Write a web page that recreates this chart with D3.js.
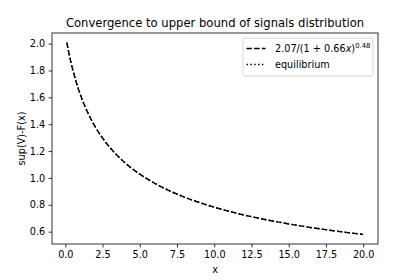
<!DOCTYPE html>
<html lang="en">
<head>
  <meta charset="UTF-8">
  <title>Convergence to upper bound</title>
  <script src="https://cdnjs.cloudflare.com/ajax/libs/d3/7.8.5/d3.min.js"></script>
  <style>
    body { margin: 0; background: #fff; }
    text { font-family: "DejaVu Sans", sans-serif; fill: #000; }
  </style>
</head>
<body>
  <svg width="420" height="280"></svg>
  <script>
    // values
    const xs = [0.1, 0.25, 0.5, 0.75, 1, 1.5, 2, 2.5, 3, 4, 5, 6, 7, 8, 9, 10, 12, 14, 16, 18, 20];
    const fitted = [2.008, 1.924, 1.805, 1.707, 1.623, 1.488, 1.382, 1.297, 1.226, 1.113, 1.028,
                    0.960, 0.904, 0.857, 0.817, 0.782, 0.724, 0.678, 0.639, 0.607, 0.579];
    const equilibrium = [2.008, 1.924, 1.805, 1.707, 1.623, 1.488, 1.382, 1.297, 1.226, 1.113, 1.028,
                    0.960, 0.904, 0.857, 0.817, 0.782, 0.724, 0.678, 0.639, 0.607, 0.579];
    const xTicks = [0, 2.5, 5, 7.5, 10, 12.5, 15, 17.5, 20];
    const yTicks = [0.6, 0.8, 1.0, 1.2, 1.4, 1.6, 1.8, 2.0];

    const svg = d3.select("svg");
    const margin = { left: 52, right: 42, top: 33, bottom: 36 };
    const W = 420, H = 280;
    const fs = 9.7;

    const x = d3.scaleLinear().domain([-0.895, 20.995]).range([margin.left, W - margin.right]);
    const y = d3.scaleLinear().domain([0.508, 2.079]).range([H - margin.bottom, margin.top]);

    // axes
    const xAxis = svg.append("g")
      .attr("transform", `translate(0,${H - margin.bottom})`)
      .call(d3.axisBottom(x).tickValues(xTicks).tickFormat(d3.format(".1f")).tickSize(3.4).tickPadding(3.4));
    const yAxis = svg.append("g")
      .attr("transform", `translate(${margin.left},0)`)
      .call(d3.axisLeft(y).tickValues(yTicks).tickFormat(d3.format(".1f")).tickSize(3.4).tickPadding(3.4));
    [xAxis, yAxis].forEach(g => {
      g.select(".domain").remove();
      g.selectAll("text").style("font-size", fs + "px").style("font-family", "DejaVu Sans");
      g.selectAll("line").attr("stroke", "#000").attr("stroke-width", 0.8);
    });

    // frame
    svg.append("rect")
      .attr("x", margin.left).attr("y", margin.top)
      .attr("width", W - margin.left - margin.right)
      .attr("height", H - margin.top - margin.bottom)
      .attr("fill", "none").attr("stroke", "#000").attr("stroke-width", 0.8);

    const pts1 = xs.map((d, i) => [d, fitted[i]]);
    const pts2 = xs.map((d, i) => [d, equilibrium[i]]);
    const line = d3.line().x(d => x(d[0])).y(d => y(d[1])).curve(d3.curveMonotoneX);

    svg.append("path").datum(pts1).attr("d", line)
      .attr("fill", "none").attr("stroke", "#000").attr("stroke-width", 1.45)
      .attr("stroke-dasharray", "5.4,2.3");
    svg.append("path").datum(pts2).attr("d", line)
      .attr("fill", "none").attr("stroke", "#000").attr("stroke-width", 1.45)
      .attr("stroke-dasharray", "1.45,2.4");

    // title and labels
    svg.append("text").attr("x", (margin.left + W - margin.right) / 2).attr("y", 27)
      .attr("text-anchor", "middle").style("font-size", "11.6px")
      .text("Convergence to upper bound of signals distribution");
    svg.append("text").attr("x", (margin.left + W - margin.right) / 2).attr("y", 273)
      .attr("text-anchor", "middle").style("font-size", fs + "px").text("x");
    svg.append("text")
      .attr("transform", `translate(25,${(margin.top + H - margin.bottom) / 2}) rotate(-90)`)
      .attr("text-anchor", "middle").style("font-size", fs + "px").text("sup(V)-F(x)");

    // legend
    const lg = svg.append("g").attr("transform", "translate(243,38)");
    lg.append("rect").attr("width", 130).attr("height", 38).attr("rx", 2)
      .attr("fill", "#fff").attr("fill-opacity", 0.8)
      .attr("stroke", "#ccc").attr("stroke-width", 0.8);
    lg.append("line").attr("x1", 3.5).attr("x2", 22.5).attr("y1", 10.5).attr("y2", 10.5)
      .attr("stroke", "#000").attr("stroke-width", 1.45).attr("stroke-dasharray", "5.4,2.3");
    lg.append("line").attr("x1", 3.5).attr("x2", 22.5).attr("y1", 26.5).attr("y2", 26.5)
      .attr("stroke", "#000").attr("stroke-width", 1.45).attr("stroke-dasharray", "1.45,2.4");
    const t1 = lg.append("text").attr("x", 32).attr("y", 14).style("font-size", fs + "px");
    t1.append("tspan").text("2.07/(1 + 0.66");
    t1.append("tspan").style("font-style", "italic").text("x");
    t1.append("tspan").text(")");
    t1.append("tspan").attr("dy", -4.3).style("font-size", "6.8px").text("0.48");
    lg.append("text").attr("x", 32).attr("y", 30).style("font-size", fs + "px").text("equilibrium");
  </script>
</body>
</html>
